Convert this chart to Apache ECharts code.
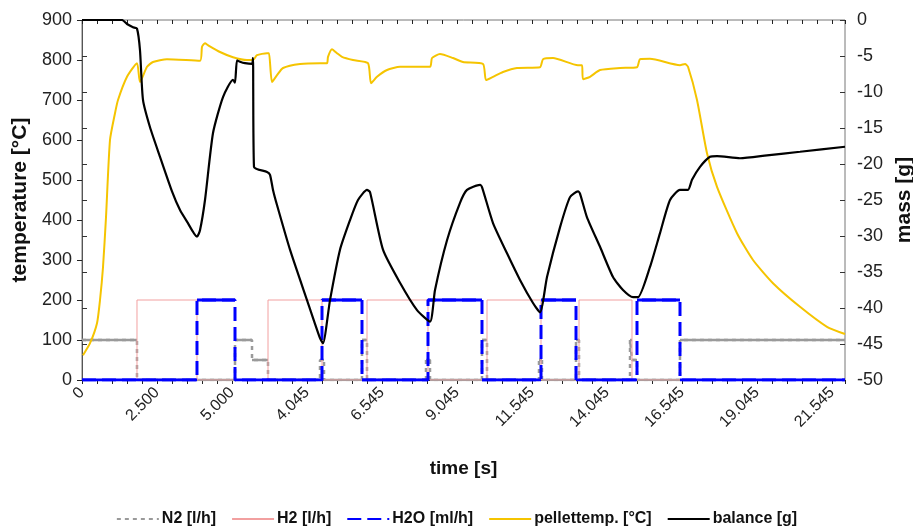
<!DOCTYPE html>
<html>
<head>
<meta charset="utf-8">
<script src="https://cdn.jsdelivr.net/npm/echarts@6/dist/echarts.min.js"></script>
<style>
  html, body { margin: 0; padding: 0; background: #fff; }
  #chart { width: 913px; height: 527px; }
</style>
</head>
<body>
<div id="chart"></div>
<script>
// x values are the nominal time of the axis (one minor tick = 500)
var tickLabels = ['0', '2.500', '5.000', '4.045', '6.545', '9.045', '11.545', '14.045', '16.545', '19.045', '21.545'];
var xMax = 25433;

// gas flows, change points (value holds until the next time)
var n2Time  = [0, 1833, 5100, 5667, 6200, 7933, 8067, 9333, 9500, 11467, 11600, 13333, 13500, 15233, 15333, 16467, 16567, 18267, 18333, 18500, 19933, 25433];
var n2Val   = [100, 0, 100, 50, 0, 50, 0, 100, 0, 50, 0, 100, 0, 50, 0, 100, 0, 100, 50, 0, 100, 100];
var h2Time  = [0, 1833, 3833, 6200, 8000, 9500, 11533, 13500, 15300, 16567, 18333, 25433];
var h2Val   = [0, 200, 0, 200, 0, 200, 0, 200, 0, 200, 0, 0];
var h2oTime = [0, 3833, 5100, 8000, 9333, 11533, 13333, 15300, 16467, 18500, 19933, 25433];
var h2oVal  = [0, 200, 0, 200, 0, 200, 0, 200, 0, 200, 0, 0];

// pellet temperature [°C]
var tempTime = [33, 267, 500, 600, 700, 800, 933, 1100, 1200, 1500, 1833, 1933, 2167, 2367, 2833, 3933, 4000, 4100, 4200, 4600,
  5033, 5500, 5700, 5833, 6167, 6233, 6333, 6500, 6700, 7267, 7933, 8167, 8200, 8333, 8500, 8667, 9033, 9533, 9633, 9833,
  10167, 10600, 11600, 11667, 11933, 12367, 12700, 13367, 13467, 13700, 14033, 14500, 15267, 15367, 15700, 16533, 16667, 16700,
  16933, 17267, 17933, 18500, 18600, 18933, 19933, 20100, 20200, 20500, 20833, 21167, 21833, 22367, 23033, 23933, 24833, 25433];
var tempVal  = [62, 92, 142, 200, 282, 407, 600, 667, 700, 758, 792, 745, 783, 795, 802, 798, 833, 842, 837, 820,
  807, 800, 800, 812, 817, 817, 745, 762, 780, 790, 792, 792, 808, 827, 817, 808, 800, 792, 742, 758,
  775, 783, 783, 805, 815, 805, 795, 790, 750, 758, 770, 780, 782, 802, 805, 787, 787, 752,
  758, 775, 780, 782, 802, 803, 787, 790, 783, 700, 567, 483, 367, 300, 242, 183, 133, 115];

// balance [g]
var balTime = [0, 1333, 1500, 1700, 1833, 1933, 2033, 2267, 2600, 3000, 3267, 3500, 3833, 3933, 4100, 4367, 4700, 5033, 5100, 5167, 5267, 5433,
  5667, 5700, 5733, 6167, 6267, 6367, 6500, 6933, 7500, 7933, 8033, 8267, 8600, 8933, 9200, 9500, 9600, 10033, 10600, 11167,
  11600, 11767, 12167, 12600, 12833, 13267, 13333, 13700, 14167, 14600, 15033, 15267, 15500, 15933, 16267, 16533, 16600, 16833, 17267,
  17700, 18033, 18367, 18533, 18933, 19267, 19600, 19933, 20200, 20333, 20600, 20933, 21167, 21933, 22833, 23933, 25433];
var balVal  = [0, 0, -0.55, -1, -1.2, -4.2, -11.1, -14.9, -19, -23.8, -26.4, -28, -30.1, -29.2, -25, -15.7, -10.7, -8.3, -8.7, -5.6, -5.8, -6,
  -6.1, -5.3, -20.4, -21.1, -21.5, -23.6, -25.7, -31.9, -38.9, -44.2, -44.9, -38.9, -31.9, -27.8, -25, -23.6, -23.9, -31.9, -36.5, -40.3,
  -41.9, -37.5, -30.6, -25.4, -23.6, -22.9, -23.2, -28.2, -32.4, -36.1, -39.3, -40.6, -35.7, -28.8, -24.6, -23.8, -24.1, -27.4, -31.5,
  -35.7, -37.5, -38.5, -38.5, -34.3, -29.6, -25, -23.6, -23.6, -22.2, -20.4, -19, -18.9, -19.2, -18.8, -18.3, -17.6];

function pairs(t, v) {
  return t.map(function (x, i) { return [x, v[i]]; });
}
// solid horizontal pieces of a step series (the plotted data draws flats solid, jumps dashed)
function flats(t, v) {
  var out = [];
  for (var i = 0; i < t.length - 1; i++) {
    out.push([t[i], v[i]], [t[i + 1], v[i]], [t[i + 1], '-']);
  }
  return out;
}

var font = "'Liberation Sans', Arial, sans-serif";
var chart = echarts.init(document.getElementById('chart'));

var xBase = {
  type: 'value', min: 0, max: xMax, interval: 2500,
  splitLine: { show: false }
};

chart.setOption({
  backgroundColor: '#fff',
  animation: false,
  textStyle: { fontFamily: font },
  grid: {
    left: 82, right: 68, top: 20, bottom: 147, containLabel: false, outerBoundsMode: 'none',
    show: true, borderColor: '#777', borderWidth: 1
  },
  legend: {
    top: 506, left: 'center',
    itemWidth: 42, itemHeight: 12, itemGap: 15,
    itemStyle: { opacity: 0 },
    data: ['N2 [l/h]', 'H2 [l/h]', 'H2O [ml/h]', 'pellettemp. [°C]', 'balance [g]'],
    textStyle: { fontFamily: font, fontSize: 16, fontWeight: 'bold', color: '#111', padding: [0, 0, 0, -2] }
  },
  xAxis: [
    Object.assign({}, xBase, {
      name: 'time [s]', nameLocation: 'middle', nameGap: 79,
      nameTextStyle: { fontSize: 19, fontWeight: 'bold', color: '#111', fontFamily: font },
      axisLine: { lineStyle: { color: '#111', width: 1 } },
      axisTick: { show: true, length: 4, lineStyle: { color: '#222' } },
      minorTick: { show: true, splitNumber: 5, length: 4, lineStyle: { color: '#222' } },
      axisLabel: {
        rotate: 45, fontSize: 16, color: '#222', margin: 10, fontFamily: font,
        formatter: function (v) { return v % 2500 === 0 ? tickLabels[v / 2500] : ''; }
      }
    }),
    Object.assign({}, xBase, {
      axisLine: { show: false },
      axisLabel: { show: false },
      axisTick: { show: true, inside: true, length: 4, lineStyle: { color: '#222' } },
      minorTick: { show: true, splitNumber: 5, length: 4, lineStyle: { color: '#222' } }
    })
  ],
  yAxis: [
    {
      type: 'value', min: 0, max: 900, interval: 100, position: 'left',
      name: 'temperature [°C]', nameLocation: 'middle', nameGap: 48, nameRotate: 90,
      nameTextStyle: { fontSize: 21, fontWeight: 'bold', color: '#111', fontFamily: font },
      axisLine: { show: true, lineStyle: { color: '#111' } },
      axisTick: { show: true, length: 5, lineStyle: { color: '#222' } },
      axisLabel: { fontSize: 18, color: '#222', margin: 10, fontFamily: font },
      splitLine: { show: false }
    },
    {
      type: 'value', min: -50, max: 0, interval: 5, position: 'right',
      name: 'mass [g]', nameLocation: 'middle', nameGap: 40, nameRotate: 90,
      nameTextStyle: { fontSize: 21, fontWeight: 'bold', color: '#111', fontFamily: font },
      axisLine: { show: true, lineStyle: { color: '#555' } },
      axisTick: { show: true, length: 5, lineStyle: { color: '#333' } },
      axisLabel: { fontSize: 18, color: '#222', margin: 12, fontFamily: font },
      splitLine: { show: false }
    },
    {
      type: 'value', min: -50, max: 0, interval: 5, position: 'right',
      axisLine: { show: false }, axisLabel: { show: false },
      axisTick: { show: true, inside: true, length: 5, lineStyle: { color: '#333' } },
      splitLine: { show: false }
    }
  ],
  series: [
    {
      name: 'N2 [l/h]', type: 'line', step: 'end', symbol: 'none', yAxisIndex: 0,
      data: pairs(n2Time, n2Val),
      lineStyle: { color: '#9a9a9a', width: 2.5, type: [4, 4] },
      itemStyle: { color: '#9a9a9a' }
    },
    {
      name: 'N2 flat', type: 'line', symbol: 'none', yAxisIndex: 0, connectNulls: false,
      data: flats(n2Time, n2Val),
      lineStyle: { color: '#9a9a9a', width: 2.5 }
    },
    {
      name: 'H2 [l/h]', type: 'line', step: 'end', symbol: 'none', yAxisIndex: 0,
      data: pairs(h2Time, h2Val),
      lineStyle: { color: '#f2a0a0', width: 1 },
      itemStyle: { color: '#f2a0a0' }
    },
    {
      name: 'H2O [ml/h]', type: 'line', step: 'end', symbol: 'none', yAxisIndex: 0,
      data: pairs(h2oTime, h2oVal),
      lineStyle: { color: '#0000ff', width: 3, type: [14, 6] },
      itemStyle: { color: '#0000ff' }
    },
    {
      name: 'H2O flat', type: 'line', symbol: 'none', yAxisIndex: 0, connectNulls: false,
      data: flats(h2oTime, h2oVal),
      lineStyle: { color: '#0000ff', width: 3 }
    },
    {
      name: 'pellettemp. [°C]', type: 'line', symbol: 'none', yAxisIndex: 0,
      smooth: 0.2,
      data: pairs(tempTime, tempVal),
      lineStyle: { color: '#f5c400', width: 2 },
      itemStyle: { color: '#f5c400' }
    },
    {
      name: 'balance [g]', type: 'line', symbol: 'none', yAxisIndex: 1,
      smooth: 0.2,
      data: pairs(balTime, balVal),
      lineStyle: { color: '#000', width: 2.2 },
      itemStyle: { color: '#000' }
    }
  ]
});
</script>
</body>
</html>
